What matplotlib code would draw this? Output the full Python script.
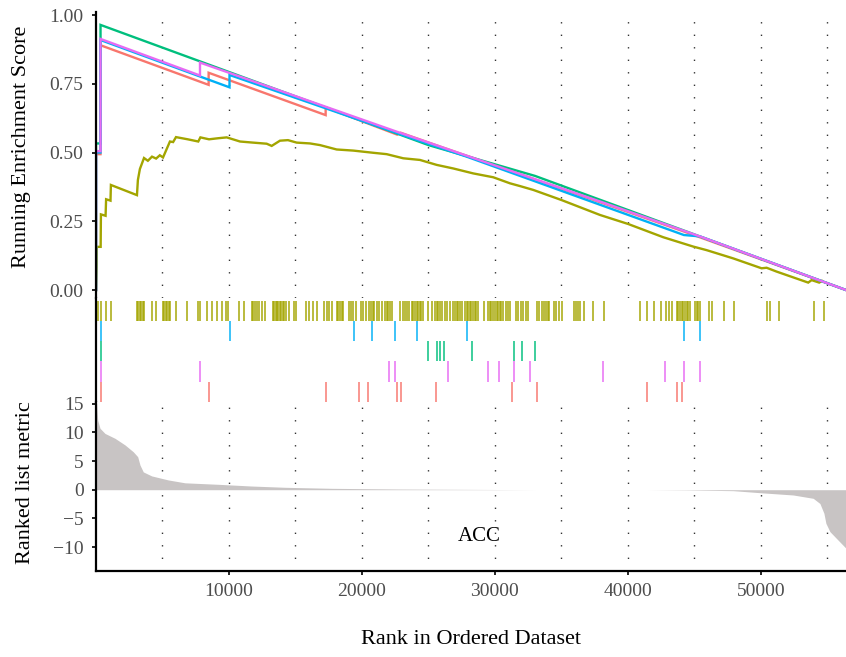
import matplotlib
matplotlib.use("Agg")
import matplotlib.pyplot as plt

plt.rcParams['font.family'] = ['Liberation Serif', 'DejaVu Serif']

n_genes = 56400
set_colors = {'red': '#F8766D', 'olive': '#A3A500', 'green': '#00BF7D',
              'blue': '#00B0F6', 'pink': '#E76BF3'}

# running enrichment score, vertices (rank, ES)
olive_rank = [0, 50, 60, 350, 370, 720, 760, 1090, 1120, 3080, 3150, 3300, 3610, 3900,
              4210, 4520, 4800, 5040, 5560, 5800, 6015, 6900, 7690, 7850, 8500, 9200,
              9830, 10830, 11805, 12835, 13211, 13835, 14436, 15091, 16091, 16843,
              18098, 19346, 20098, 20850, 21858, 23106, 24362, 25617, 26866, 28370,
              29873, 31129, 31881, 32881, 35016, 37896, 40024, 42655, 44911, 45919,
              47919, 50054, 50430, 51182, 53558, 53813, 54385, 54588]
olive_es = [0.0, 0.085, 0.157, 0.157, 0.275, 0.27, 0.33, 0.325, 0.382, 0.345, 0.40, 0.44,
            0.48, 0.47, 0.485, 0.478, 0.49, 0.482, 0.54, 0.538, 0.556, 0.548, 0.54, 0.555,
            0.548, 0.552, 0.555, 0.54, 0.536, 0.532, 0.524, 0.543, 0.545, 0.536, 0.533,
            0.527, 0.511, 0.507, 0.503, 0.499, 0.494, 0.479, 0.473, 0.455, 0.442, 0.424,
            0.41, 0.388, 0.378, 0.364, 0.327, 0.273, 0.24, 0.192, 0.158, 0.145, 0.115,
            0.079, 0.081, 0.067, 0.027, 0.036, 0.027, 0.033]

red_rank = [0, 0, 340, 340, 8470, 8470, 17270, 17270, 22650, 22910, 25565, 33140, 44080, 56400]
red_es = [0.0, 0.494, 0.494, 0.89, 0.746, 0.79, 0.636, 0.664, 0.565, 0.572, 0.527, 0.400, 0.215, 0.0]

green_rank = [0, 0, 340, 340, 25000, 33010, 56400]
green_es = [0.0, 0.533, 0.533, 0.964, 0.527, 0.415, 0.0]

blue_rank = [0, 0, 340, 340, 10040, 10040, 24170, 27870, 44210, 45410, 56400]
blue_es = [0.0, 0.50, 0.50, 0.909, 0.737, 0.782, 0.545, 0.485, 0.20, 0.195, 0.0]

pink_rank = [0, 0, 340, 340, 7820, 7820, 22480, 38140, 45410, 56400]
pink_es = [0.0, 0.505, 0.505, 0.913, 0.78, 0.827, 0.578, 0.318, 0.195, 0.0]

# hit positions (rank) of each gene set
olive_hits = [113, 376, 752, 1128, 3060, 3170, 3280, 3390, 3500, 3610, 4248, 4526, 5015,
              5125, 5235, 5345, 5455, 5564, 6000, 6880, 7690, 7850, 8346, 8760, 9136, 9512,
              9762, 9940, 10752, 11143, 11710, 11830, 11950, 12070, 12256, 12519, 12745,
              13286, 13400, 13510, 13587, 13700, 13820, 13910, 14040, 14135, 14300, 14512,
              14890, 15040, 15827, 16030, 16340, 16600, 17160, 17390, 17540, 17780, 18100,
              18230, 18360, 18490, 18600, 19050, 19200, 19350, 19560, 19900, 20050, 20290,
              20550, 20700, 20810, 20930, 21100, 21300, 21480, 21730, 21860, 21990, 22120,
              22230, 22880, 23110, 23230, 23400, 23510, 23740, 23860, 23990, 24110, 24230,
              24350, 24470, 24590, 24990, 25240, 25490, 25610, 25740, 25860, 25990, 26240,
              26400, 26620, 26870, 26990, 27110, 27240, 27370, 27500, 27750, 27870, 27990,
              28110, 28230, 28350, 28470, 28590, 28710, 29170, 29500, 29620, 29740, 29870,
              30000, 30130, 30250, 30370, 30490, 30620, 30830, 30960, 31130, 31560, 31750,
              31950, 32130, 32330, 32520, 33180, 33330, 33510, 33680, 33840, 34000, 34090,
              34440, 34590, 34840, 35020, 35940, 36090, 36240, 36390, 36720, 37390, 38230,
              40940, 41470, 41960, 42480, 42860, 43110, 43290, 43660, 43790, 43910, 44040,
              44160, 44290, 44410, 44540, 44660, 45040, 45170, 45300, 45440, 46110, 46290,
              47200, 47950, 50430, 50680, 51380, 54010, 54720]
blue_hits = [0, 340, 10040, 19400, 20730, 22480, 24170, 27870, 44210, 45410]
green_hits = [0, 340, 25000, 25640, 25870, 26140, 28250, 31450, 32030, 33010]
pink_hits = [0, 340, 7820, 22030, 22480, 26500, 29450, 30320, 31410, 32650, 38140, 42810,
             44210, 45410]
red_hits = [0, 340, 8470, 17270, 19750, 20430, 22650, 22910, 25565, 31260, 33140, 41430,
            43710, 44080]

# ranked list metric (rank, value)
metric_rank = [0, 53, 128, 301, 677, 1429, 2180, 2805, 3135, 3308, 3556, 4188, 5436, 6692,
               9196, 11707, 14211, 17723, 22858, 28873, 33000, 41407, 44414, 47919, 49926,
               52430, 53934, 54438, 54739, 54889, 55190, 55814, 56400]
metric_val = [15.3, 15.0, 12.1, 10.7, 9.8, 8.95, 7.8, 6.6, 5.75, 4.3, 3.1, 2.4, 1.7, 1.2,
              0.94, 0.64, 0.42, 0.24, 0.12, 0.05, 0.0, 0.0, -0.05, -0.17, -0.52, -0.92,
              -1.5, -2.4, -4.1, -5.85, -7.3, -8.8, -10.2]

es_ticks = [0.0, 0.25, 0.5, 0.75, 1.0]
metric_ticks = [-10, -5, 0, 5, 10, 15]
rank_ticks = [10000, 20000, 30000, 40000, 50000]
grid_x = list(range(5000, 56000, 5000))

W, H = 846, 657
fig = plt.figure(figsize=(W / 100, H / 100), dpi=100)


def box(l, t, r, b):
    return [l / W, 1 - b / H, (r - l) / W, (b - t) / H]


ax1 = fig.add_axes(box(96, 11.7, 846, 298))
ax2 = fig.add_axes(box(96, 298, 846, 401.7))
ax3 = fig.add_axes(box(96, 401.7, 846, 571))

tick_col = '#4D4D4D'
for ax in (ax1, ax2, ax3):
    ax.set_xlim(0, n_genes)
    for s in ('top', 'right', 'bottom'):
        ax.spines[s].set_visible(False)
    ax.spines['left'].set_linewidth(1.6)
    ax.tick_params(axis='both', length=3, width=1.2, pad=6, labelsize=14, labelcolor=tick_col)

for ax in (ax1, ax3):
    for gx in grid_x:
        ax.axvline(gx, color='#333333', lw=1.0, ls=(0, (1, 8)), zorder=0)

# top: running enrichment score
for rk, es, c in [(red_rank, red_es, 'red'), (olive_rank, olive_es, 'olive'),
                  (green_rank, green_es, 'green'), (blue_rank, blue_es, 'blue'),
                  (pink_rank, pink_es, 'pink')]:
    ax1.plot(rk, es, color=set_colors[c], lw=1.7, solid_joinstyle='miter')
ax1.set_ylim(-0.029, 1.012)
ax1.set_yticks(es_ticks)
ax1.set_yticklabels(['%.2f' % v for v in es_ticks])
ax1.set_xticks([])

# middle: hits
rows = [(olive_hits, 'olive'), (blue_hits, 'blue'), (green_hits, 'green'),
        (pink_hits, 'pink'), (red_hits, 'red')]
for i, (hits, c) in enumerate(rows):
    ax2.vlines(hits, i, i + 1, colors=set_colors[c], lw=1.25, alpha=0.85)
ax2.set_ylim(5.0, -0.15)
ax2.set_xticks([])
ax2.set_yticks([])

# bottom: ranked list metric
ax3.fill_between(metric_rank, metric_val, 0, color='#C8C4C4', lw=0)
ax3.set_ylim(-14.16, 15.33)
ax3.set_yticks(metric_ticks)
ax3.set_yticklabels(['\u2212%d' % -v if v < 0 else str(v) for v in metric_ticks])
ax3.set_xticks(rank_ticks)
ax3.spines['bottom'].set_visible(True)
ax3.spines['bottom'].set_linewidth(1.6)
ax3.text(28800, -8.2, 'ACC', ha='center', va='center', fontsize=15, color='black')

fig.text(22 / W, 1 - 147 / H, 'Running Enrichment Score', rotation=90,
         ha='center', va='center', fontsize=16)
fig.text(26 / W, 1 - 483 / H, 'Ranked list metric', rotation=90,
         ha='center', va='center', fontsize=16)
fig.text(471 / W, 1 - 640 / H, 'Rank in Ordered Dataset', ha='center', va='center',
         fontsize=16)

fig.savefig('out.png', dpi=100)
